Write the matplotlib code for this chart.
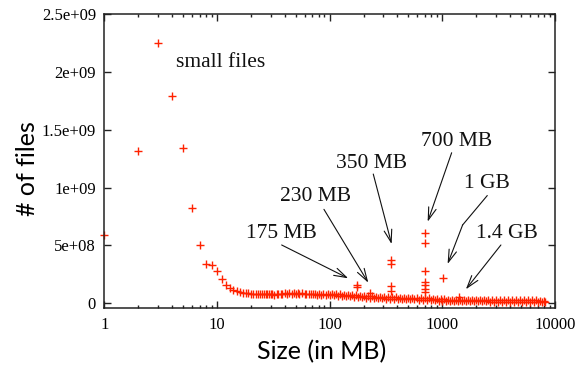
import matplotlib
matplotlib.use("Agg")
import matplotlib.pyplot as plt
from matplotlib.ticker import LogLocator, NullFormatter

# ---------------- data (file sizes in MB, counts in millions) ----------------
small_sizes = list(range(1, 31))
small_counts_m = [588, 1320, 2250, 1790, 1340, 820, 505, 337, 335, 277,
                  208, 160, 136, 115, 102, 96, 91, 88, 85, 83,
                  81, 80, 79, 78, 78, 77, 77, 77, 77, 77]

mid_sizes = [31, 32, 34, 35, 37, 38, 40, 42, 44, 46, 48, 50, 52, 54, 57, 60,
             62, 65, 68, 71, 74, 77, 81, 84, 88, 92, 96, 100]
mid_counts_m = [78, 74, 81, 77, 83, 79, 85, 81, 87, 82, 87, 82, 86, 81, 85, 80,
                84, 79, 83, 77, 82, 76, 81, 75, 80, 74, 80, 75]

large_sizes = [104, 109, 113, 118, 123, 128, 134, 139, 145, 151, 158, 164, 171,
               178, 186, 194, 202, 211, 219, 229, 238, 248, 259, 270, 281, 293,
               305, 318, 331, 345, 360, 375, 391, 407, 424, 442, 461, 480, 500,
               521, 543, 566, 590, 615, 641, 668, 696, 725, 756, 788, 821, 855,
               891, 929, 968, 1000]
large_counts_m = [82, 69, 80, 67, 78, 65, 76, 63, 74, 61, 72, 58, 69, 55, 66,
                  52, 63, 50, 61, 48, 59, 46, 57, 44, 55, 42, 55, 41, 53, 39,
                  52, 38, 51, 37, 50, 36, 49, 35, 48, 34, 47, 33, 46, 32, 45,
                  31, 44, 30, 42, 28, 40, 26, 38, 24, 36, 20]

huge_sizes = [1042, 1085, 1130, 1177, 1226, 1277, 1330, 1386, 1443, 1503, 1566,
              1631, 1699, 1770, 1843, 1920, 2000, 2083, 2170, 2260, 2354, 2452,
              2554, 2660, 2771, 2886, 3006, 3131, 3261, 3397, 3538, 3685, 3838,
              3998, 4164, 4337, 4518, 4706, 4901, 5105, 5317, 5538, 5769, 6009,
              6258, 6519, 6790, 7072, 7366, 7672, 7991, 8192]
huge_counts_m = [33, 21, 32, 20, 32, 20, 31, 19, 31, 19, 30, 18, 30, 18, 29,
                 17, 29, 17, 28, 16, 28, 16, 28, 15, 27, 15, 27, 14, 27, 14,
                 26, 14, 26, 13, 26, 13, 26, 13, 25, 13, 25, 12, 25, 12, 25,
                 12, 25, 12, 24, 12, 24, 14]

spike_sizes = [175, 175, 230, 350, 350, 350, 350, 700, 700, 700, 700, 700, 700,
               700, 1024, 1400]
spike_counts_m = [156, 138, 89, 372, 337, 147, 106, 608, 522, 277, 184, 156,
                  127, 98, 222, 56]

ytick_vals = [0, 5e8, 1e9, 1.5e9, 2e9, 2.5e9]
ytick_labels = ["0", "5e+08", "1e+09", "1.5e+09", "2e+09", "2.5e+09"]
xtick_vals = [1, 10, 100, 1000, 10000]
xtick_labels = ["1", "10", "100", "1000", "10000"]

# annotations: (label, text pos, arrow path points ending at tip)
notes = [
    ("175 MB", (17.98, 5.64e8), [(37.5, 5.04e8), (146.2, 2.16e8)]),
    ("230 MB", (36.2, 8.84e8), [(89.0, 8.12e8), (220.2, 1.78e8)]),
    ("350 MB", (113.7, 1.169e9), [(243.8, 1.117e9), (354.8, 5.12e8)]),
    ("700 MB", (641.6, 1.359e9), [(1210, 1.301e9), (741, 7.05e8)]),
    ("1 GB", (1555, 9.96e8), [(2500, 9.30e8), (1514, 6.77e8), (1114, 3.40e8)]),
    ("1.4 GB", (1974, 5.64e8), [(3311, 5.04e8), (1618, 1.21e8)]),
]

# ---------------- figure ----------------
W, H = 583, 366
fig = plt.figure(figsize=(W / 100, H / 100), dpi=100)
ax = fig.add_axes([104.3 / W, 1 - 307.7 / H, (555 - 104.3) / W, (307.7 - 14) / H])

red = "#ff2200"
mk = dict(linestyle="none", marker="+", color=red, markersize=5.6,
          markeredgewidth=1.0)
all_sizes = small_sizes + mid_sizes + large_sizes + huge_sizes
all_counts = [c * 1e6 for c in small_counts_m + mid_counts_m + large_counts_m + huge_counts_m]
ax.plot(all_sizes, all_counts, clip_on=False, **mk)
ax.plot(spike_sizes, [c * 1e6 for c in spike_counts_m], **mk)

ax.set_xscale("log")
ax.set_xlim(1, 10000)
ax.set_ylim(-3.8e7, 2.5e9)

serif = "Liberation Serif"
ax.set_xticks(xtick_vals)
ax.set_xticklabels(xtick_labels, fontfamily=serif, fontsize=12)
ax.xaxis.set_minor_locator(LogLocator(base=10, subs=range(2, 10), numticks=50))
ax.xaxis.set_minor_formatter(NullFormatter())
ax.set_yticks(ytick_vals)
ax.set_yticklabels(ytick_labels, fontfamily=serif, fontsize=12)

ax.tick_params(which="both", direction="in", top=True, right=True, width=1.0,
               color="#222222")
ax.tick_params(which="major", length=5)
ax.tick_params(which="minor", length=2.5)
ax.tick_params(axis="x", which="major", pad=7)
ax.tick_params(axis="y", which="major", pad=6)
for s in ax.spines.values():
    s.set_linewidth(1.1)
    s.set_color("#222222")

sans = "Lato"
ax.set_xlabel("Size (in MB)", fontfamily=sans, fontsize=18, labelpad=5)
ax.xaxis.label.set_x(0.483)
ax.set_ylabel("# of files", fontfamily=sans, fontsize=18, labelpad=2)
ax.yaxis.label.set_y(0.474)

ax.text(4.33, 2.042e9, "small files", fontfamily=serif, fontsize=15.5,
        ha="left", va="baseline", color="#111111")

for label, tpos, path in notes:
    ax.text(tpos[0], tpos[1], label, fontfamily=serif, fontsize=15.5,
            ha="left", va="baseline", color="#111111")
    if len(path) > 2:
        xs = [p[0] for p in path[:-1]]
        ys = [p[1] for p in path[:-1]]
        ax.plot(xs, ys, color="#111111", lw=0.8)
    ax.annotate("", xy=path[-1], xytext=path[-2],
                arrowprops=dict(arrowstyle="->,head_length=0.9,head_width=0.28",
                                color="#111111", lw=0.8, shrinkA=0, shrinkB=0,
                                mutation_scale=10))

fig.savefig("out.png", dpi=100)
